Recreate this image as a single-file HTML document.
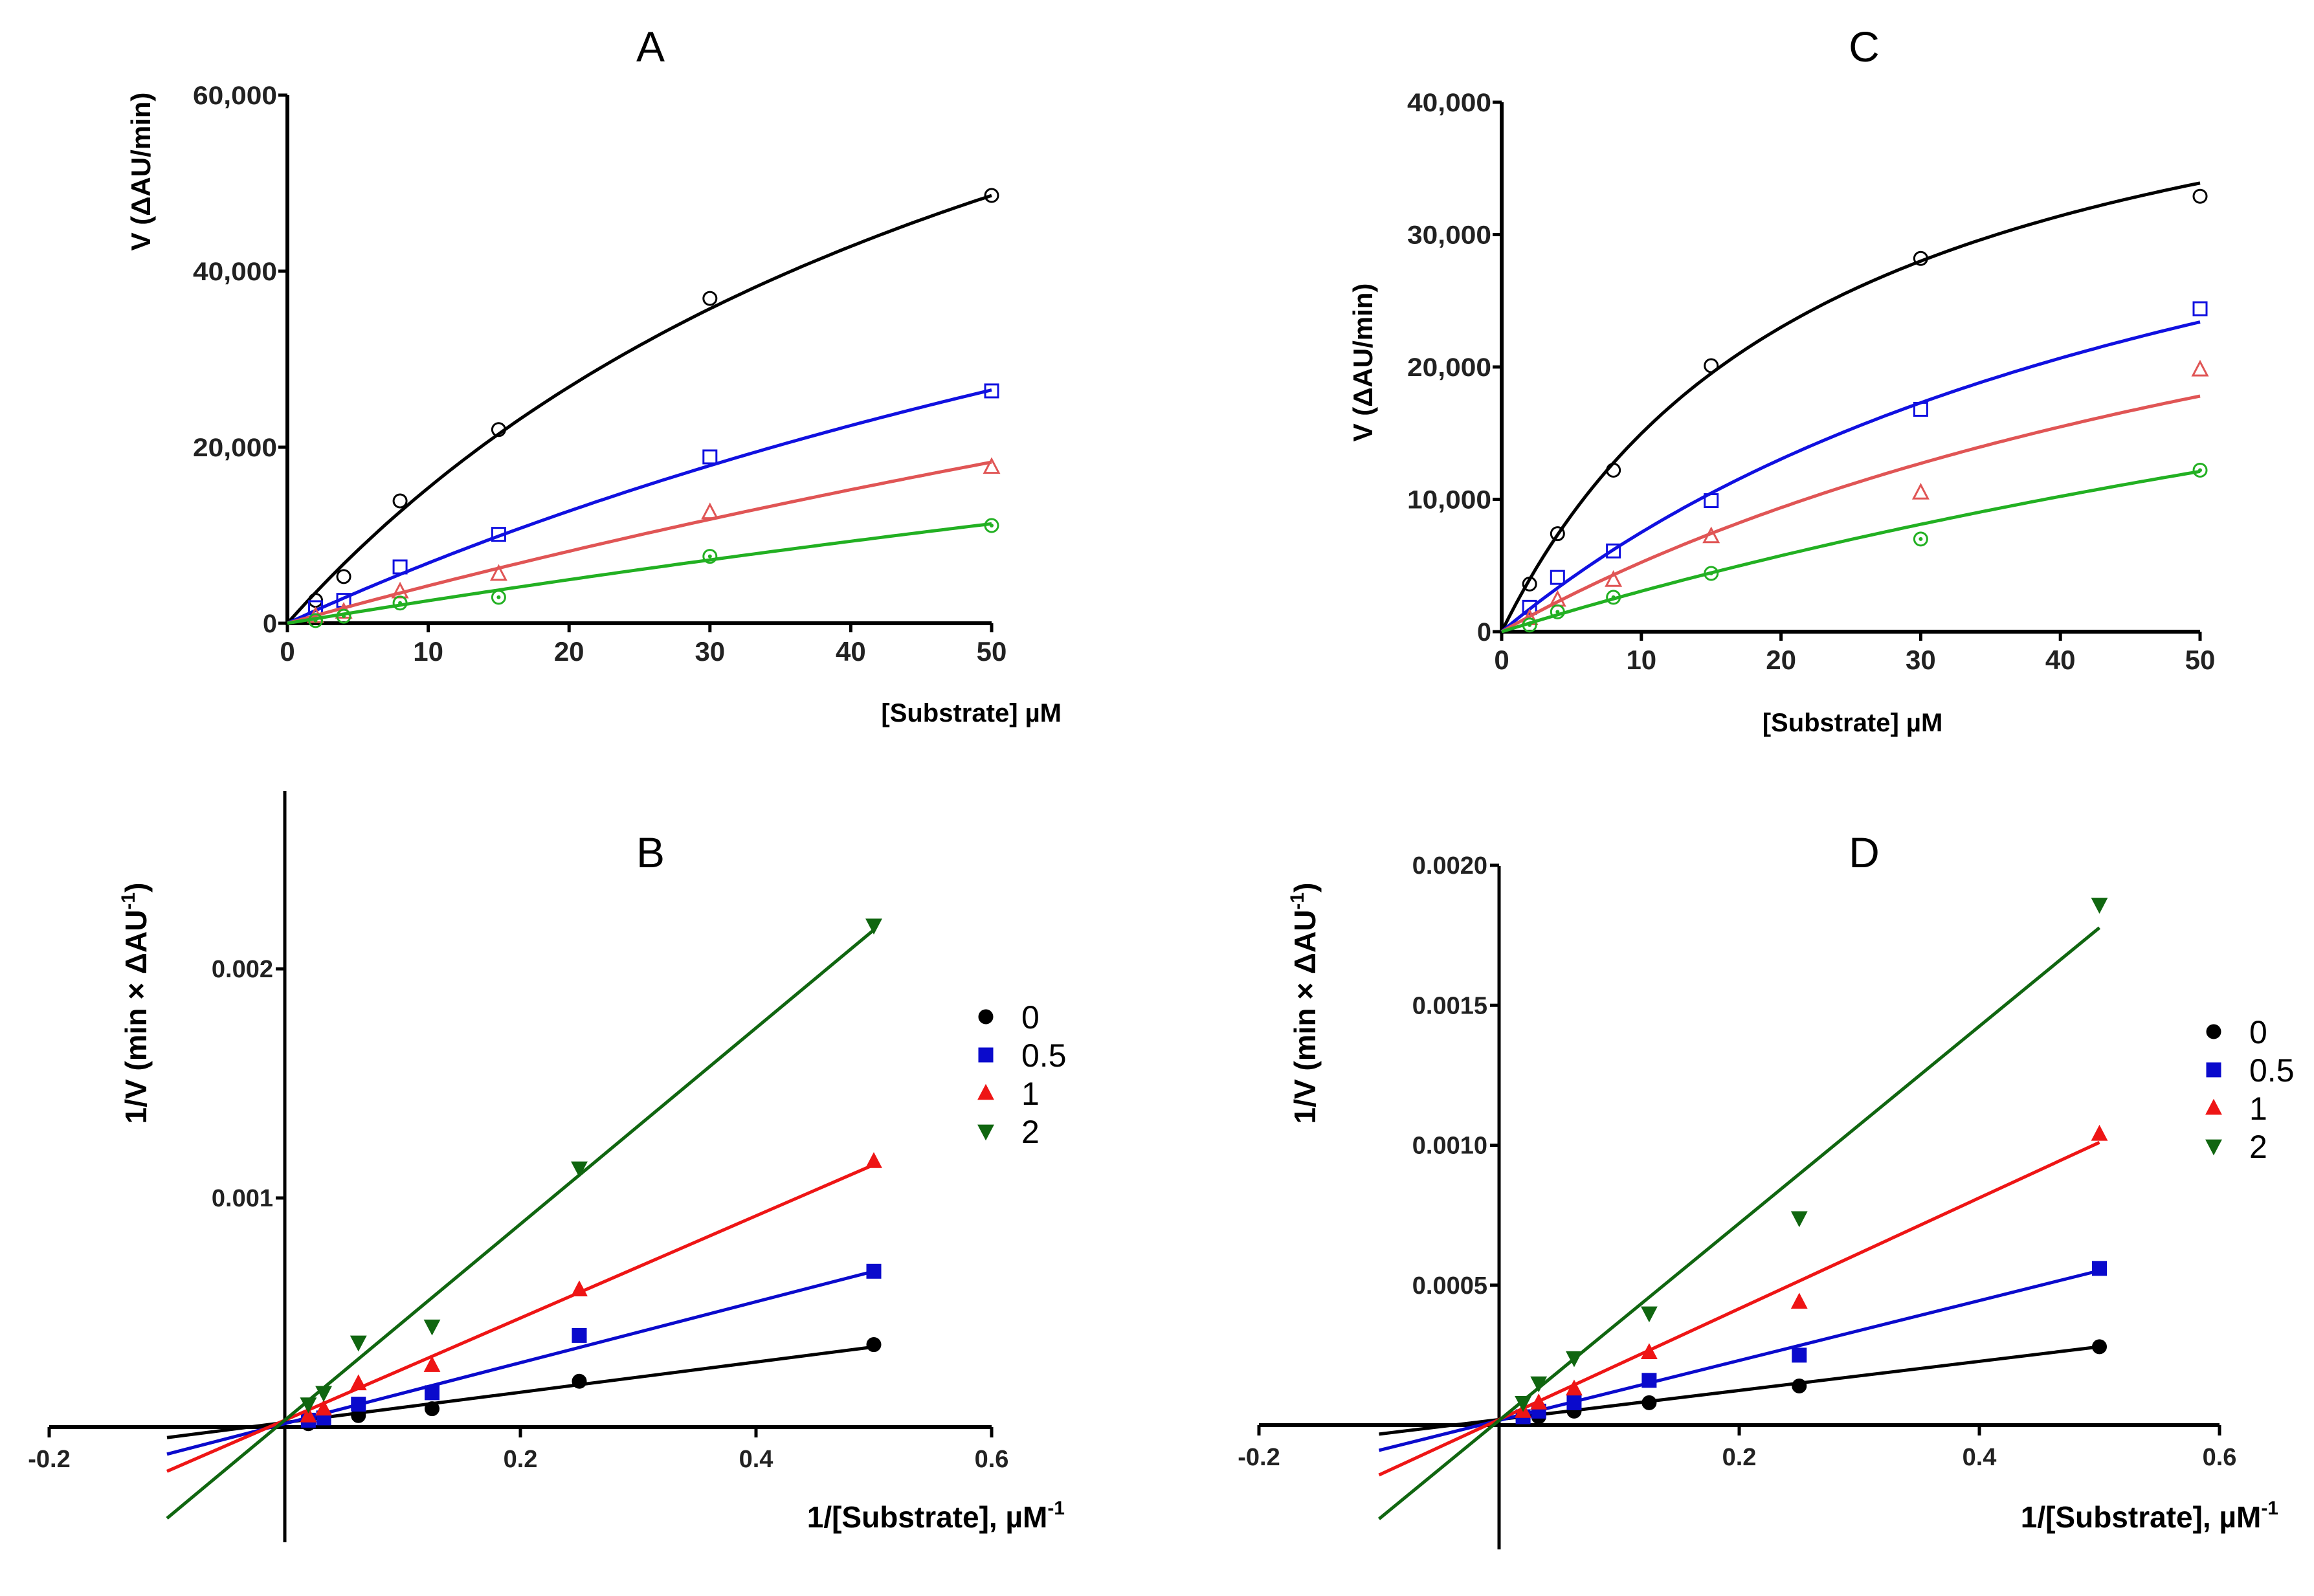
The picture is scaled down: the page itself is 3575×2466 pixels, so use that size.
<!DOCTYPE html>
<html><head><meta charset="utf-8">
<style>
html,body{margin:0;padding:0;background:#fff;}
svg{display:block;font-family:"Liberation Sans",sans-serif;}
</style></head>
<body>
<svg id="fig" width="3575" height="2466" viewBox="0 0 3575 2466" xmlns="http://www.w3.org/2000/svg"></svg>
<script>
// ---- data ----
const substrateConc = [2, 4, 8, 15, 30, 50];
const invSubstrate = [0.02, 0.033, 0.0625, 0.125, 0.25, 0.5];
const inhibitorLabels = ["0", "0.5", "1", "2"];
// Panel A observed rates
const aBlack = [2600, 5300, 13900, 22000, 36900, 48600];
const aBlue = [1770, 2600, 6400, 10100, 18900, 26400];
const aRed = [800, 1300, 3600, 5600, 12600, 17750];
const aGreen = [300, 800, 2300, 2950, 7600, 11100];
const aVmax = [105650, 94340, 104700, 78000];
const aKm = [58.7, 128, 236, 295];
// Panel C observed rates
const cBlack = [3600, 7400, 12200, 20100, 28200, 32900];
const cBlue = [1840, 4100, 6100, 9900, 16800, 24400];
const cRed = [1000, 2400, 3900, 7200, 10500, 19800];
const cGreen = [500, 1500, 2600, 4400, 7000, 12200];
const cVmax = [49560, 49750, 44500, 46500];
const cKm = [23.1, 56.3, 75, 142];
// Panel B reciprocal
const bBlack = [0.000015, 0.00003, 0.00005, 0.00008, 0.0002, 0.00036];
const bBlue = [0.00003, 0.00004, 0.0001, 0.00015, 0.0004, 0.00068];
const bRed = [0.00005, 0.00008, 0.00019, 0.00027, 0.0006, 0.00116];
const bGreen = [0.0001, 0.00015, 0.00037, 0.00044, 0.00113, 0.00219];
const bSlope = [0.00066, 0.00133, 0.00223, 0.00428];
const bIntercept = [0.00002, 0.000015, 0.00003, 0.00003];
// Panel D reciprocal
const dBlack = [0.00002, 0.00003, 0.00005, 0.00008, 0.00014, 0.00028];
const dBlue = [0.00003, 0.00005, 0.00008, 0.00016, 0.00025, 0.00056];
const dRed = [0.00005, 0.00008, 0.00013, 0.00026, 0.00044, 0.00104];
const dGreen = [0.00008, 0.00015, 0.00024, 0.0004, 0.00074, 0.00186];
const dSlope = [0.00052, 0.00107, 0.00198, 0.00352];
const dIntercept = [0.00002, 0.000017, 0.00002, 0.000017];
const mmTicksX = [0, 10, 20, 30, 40, 50];
const aTicksY = [0, 20000, 40000, 60000];
const cTicksY = [0, 10000, 20000, 30000, 40000];
const lbTicksX = [-0.2, 0.2, 0.4, 0.6];
const bTicksY = [0.001, 0.002];
const dTicksY = [0.0005, 0.001, 0.0015, 0.002];

const NS = "http://www.w3.org/2000/svg";
const svg = document.getElementById("fig");
function mk(tag, attrs, parent, text) {
  const e = document.createElementNS(NS, tag);
  for (const k in attrs) e.setAttribute(k, attrs[k]);
  if (text !== undefined) e.textContent = text;
  (parent || svg).appendChild(e);
  return e;
}
function fmt(v){ return v.toLocaleString("en-US"); }

function marker(g, shape, cx, cy, color, filled, s) {
  let e;
  const fill = filled ? color : "none";
  const sw = filled ? 1 : 3;
  if (shape === 0) e = mk("circle", {cx, cy, r: s*0.5, fill, stroke: color, "stroke-width": sw}, g);
  else if (shape === 1) e = mk("rect", {x: cx-s*0.5, y: cy-s*0.5, width: s, height: s, fill, stroke: color, "stroke-width": sw}, g);
  else if (shape === 2) e = mk("polygon", {points: `${cx},${cy-s*0.6} ${cx-s*0.55},${cy+s*0.45} ${cx+s*0.55},${cy+s*0.45}`, fill, stroke: color, "stroke-width": sw}, g);
  else if (shape === 3) {
    if (filled) e = mk("polygon", {points: `${cx},${cy+s*0.6} ${cx-s*0.55},${cy-s*0.45} ${cx+s*0.55},${cy-s*0.45}`, fill, stroke: color, "stroke-width": sw}, g);
    else { e = mk("circle", {cx, cy, r: s*0.5, fill: "none", stroke: color, "stroke-width": sw}, g);
      mk("circle", {cx, cy, r: s*0.15, fill: color}, g); }
  }
  return e;
}

// ---------- Michaelis-Menten panels ----------
function mmPanel(p) {
  const g = mk("g", {});
  
  
  const X = v => p.x0 + (v - 0) / 50 * (p.x1 - p.x0);
  const Y = v => p.y0 - v / p.ymax * (p.y0 - p.y1);
  const t = mk("text", {x: p.tx, y: 95, "font-size": 66, "text-anchor": "middle"}, g, p.title);
  
  
  const ya = mk("line", {x1: p.x0, y1: p.y0, x2: p.x0, y2: p.y1, stroke: "#000", "stroke-width": 6}, g);
  
  
  const xa = mk("line", {x1: p.x0-3, y1: p.y0, x2: p.x1, y2: p.y0, stroke: "#000", "stroke-width": 6}, g);
  
  
  mmTicksX.forEach(v => {
    mk("line", {x1: X(v), y1: p.y0, x2: X(v), y2: p.y0 + 14, stroke: "#000", "stroke-width": 5}, g);
    const tl = mk("text", {x: X(v), y: p.y0 + 58, "font-size": 42, "font-weight": "bold", "text-anchor": "middle", fill: "#222"}, g, String(v));
    
    
  });
  p.ticksY.forEach(v => {
    mk("line", {x1: p.x0 - 14, y1: Y(v), x2: p.x0, y2: Y(v), stroke: "#000", "stroke-width": 5}, g);
    const tl = mk("text", {x: p.x0 - 16, y: Y(v) + 14, "font-size": 40, "font-weight": "bold", "text-anchor": "end", fill: "#222", textLength: p.tlen(v), lengthAdjust: "spacingAndGlyphs"}, g, fmt(v));
    
    
  });
  const yt = mk("text", {transform: `translate(${p.ytx},${p.yty}) rotate(-90)`, "font-size": 42, "font-weight": "bold", "text-anchor": "middle"}, g, "V (\u0394AU/min)");
  
  
  const xt = mk("text", {x: p.xtx, y: p.xty, "font-size": 40, "font-weight": "bold", "text-anchor": p.xanchor}, g, "[Substrate] \u00b5M");
  
  
  p.series.forEach((ser, i) => {
    let d = "";
    for (let s = 0; s <= 50; s += 0.5) {
      const v = p.vmax[i] * s / (p.km[i] + s);
      d += (s === 0 ? "M" : "L") + X(s).toFixed(1) + "," + Y(v).toFixed(1);
    }
    const c = mk("path", {d, fill: "none", stroke: p.colors[i], "stroke-width": 5}, g);
    
    
    ser.forEach((v, j) => {
      const m = marker(g, i, X(substrateConc[j]), Y(v), p.colors[i], false, 20);
      
      
    });
  });
}

// ---------- Lineweaver-Burk panels ----------
function lbPanel(p) {
  const g = mk("g", {});
  
  
  const X = v => p.xz + v / 0.2 * p.xstep;
  const Y = v => p.y0 - v * p.yscale;
  const t = mk("text", {x: p.tx, y: 1340, "font-size": 66, "text-anchor": "middle"}, g, p.title);
  
  
  const ya = mk("line", {x1: p.xz, y1: p.yTop, x2: p.xz, y2: p.yBot, stroke: "#000", "stroke-width": 5}, g);
  
  
  const xa = mk("line", {x1: X(-0.2), y1: p.y0, x2: X(0.6), y2: p.y0, stroke: "#000", "stroke-width": 6}, g);
  
  
  lbTicksX.forEach(v => {
    mk("line", {x1: X(v), y1: p.y0, x2: X(v), y2: p.y0 + 16, stroke: "#000", "stroke-width": 5}, g);
    const tl = mk("text", {x: X(v), y: p.y0 + 62, "font-size": 38, "font-weight": "bold", "text-anchor": "middle", fill: "#222"}, g, String(v));
    
    
  });
  p.ticksY.forEach(v => {
    mk("line", {x1: p.xz - 14, y1: Y(v), x2: p.xz, y2: Y(v), stroke: "#000", "stroke-width": 5}, g);
    const tl = mk("text", {x: p.xz - 18, y: Y(v) + 13, "font-size": 38, "font-weight": "bold", "text-anchor": "end", fill: "#222"}, g, p.tickFmt(v));
    
    
  });
  const yt = mk("text", {transform: `translate(${p.ytx},${p.yty}) rotate(-90)`, "font-size": 46, "font-weight": "bold", "text-anchor": "middle"}, g);
  
  
  mk("tspan", {}, yt, "1/V (min \u00d7 \u0394AU");
  mk("tspan", {dy: -18, "font-size": 30}, yt, "-1");
  mk("tspan", {dy: 18}, yt, ")");
  const xt = mk("text", {x: p.xtx, y: 2360, "font-size": 46, "font-weight": "bold", "text-anchor": "end"}, g);
  
  
  mk("tspan", {}, xt, "1/[Substrate], \u00b5M");
  mk("tspan", {dy: -20, "font-size": 30}, xt, "-1");
  p.series.forEach((ser, i) => {
    const ln = mk("line", {x1: X(-0.1), y1: Y(p.intercept[i] + p.slope[i] * -0.1), x2: X(0.5), y2: Y(p.intercept[i] + p.slope[i] * 0.5), stroke: p.colors[i], "stroke-width": 5}, g);
    
    
    ser.forEach((v, j) => {
      const m = marker(g, i, X(invSubstrate[j]), Y(v), p.colors[i], true, 22);
      
      
    });
  });
  const lg = mk("g", {}, g);
  
  
  inhibitorLabels.forEach((lab, i) => {
    const y = p.legY + i * 59;
    const m = marker(lg, i, p.legX, y, p.colors[i], true, 22);
    
    
    const tx = mk("text", {x: p.legX + 55, y: y + 18, "font-size": 50}, lg, lab);
    
    
  });
}

const mmColors = ["#000000", "#1010e0", "#e05555", "#22b022"];
const lbColors = ["#000000", "#0a0acc", "#ee1515", "#106610"];

mmPanel({name: "panel-a", title: "A", tx: 1005, x0: 444, x1: 1532, y0: 963, y1: 147, ymax: 60000,
  ticksY: aTicksY, tlen: v => v === 0 ? 22 : 130, series: [aBlack, aBlue, aRed, aGreen], vmax: aVmax, km: aKm, colors: mmColors,
  ytx: 232, yty: 265, xtx: 1640, xty: 1115, xanchor: "end"});
mmPanel({name: "panel-c", title: "C", tx: 2880, x0: 2320, x1: 3399, y0: 976, y1: 158, ymax: 40000,
  ticksY: cTicksY, tlen: v => v === 0 ? 22 : 130, series: [cBlack, cBlue, cRed, cGreen], vmax: cVmax, km: cKm, colors: mmColors,
  ytx: 2120, yty: 560, xtx: 2862, xty: 1130, xanchor: "middle"});
lbPanel({name: "panel-b", title: "B", tx: 1005, xz: 440, xstep: 364, y0: 2205, yscale: 354000,
  yTop: 1222, yBot: 2383, ticksY: bTicksY, tickFmt: v => v.toFixed(3), series: [bBlack, bBlue, bRed, bGreen],
  slope: bSlope, intercept: bIntercept, colors: lbColors, ytx: 226, yty: 1550, xtx: 1645, legX: 1523, legY: 1571});
lbPanel({name: "panel-d", title: "D", tx: 2880, xz: 2316, xstep: 371, y0: 2202, yscale: 432500,
  yTop: 1338, yBot: 2394, ticksY: dTicksY, tickFmt: v => v.toFixed(4), series: [dBlack, dBlue, dRed, dGreen],
  slope: dSlope, intercept: dIntercept, colors: lbColors, ytx: 2032, yty: 1550, xtx: 3520, legX: 3420, legY: 1594});
</script>
</body></html>
